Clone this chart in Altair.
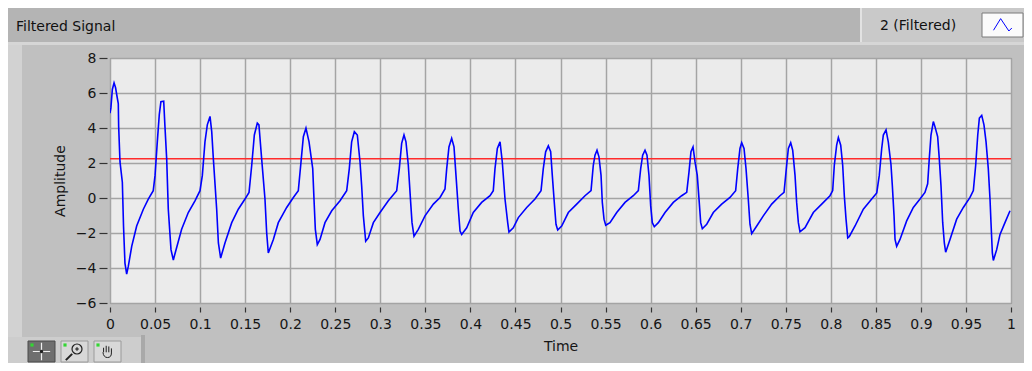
import altair as alt
import pandas as pd

# ---- data ----
time_s = [0.0, 0.001, 0.0026, 0.0045, 0.0062, 0.0078, 0.0092, 0.0096, 0.0111, 0.0137,
          0.0150, 0.0166, 0.0185, 0.0203, 0.0241, 0.0296, 0.037, 0.0425, 0.048, 0.050,
          0.0525, 0.0547, 0.0565, 0.0596, 0.061, 0.0629, 0.0647, 0.0677, 0.0703, 0.0718,
          0.0795, 0.0869, 0.0943, 0.0999, 0.1025, 0.1054, 0.108, 0.111, 0.1129, 0.1147,
          0.1184, 0.1203, 0.1228, 0.1276, 0.1351, 0.1424, 0.1498, 0.1543, 0.1573, 0.1602,
          0.1635, 0.1653, 0.1683, 0.172, 0.1739, 0.1757, 0.1813, 0.1868, 0.1961, 0.2035,
          0.209, 0.212, 0.2146, 0.2175, 0.2209, 0.225, 0.2264, 0.2279, 0.2301, 0.2331,
          0.2386, 0.2461, 0.2553, 0.2627, 0.2656, 0.2682, 0.2712, 0.2745, 0.2775, 0.2793,
          0.2812, 0.2838, 0.2867, 0.2923, 0.2997, 0.3089, 0.3182, 0.3211, 0.3237, 0.3263,
          0.3285, 0.3311, 0.3337, 0.3352, 0.3374, 0.3422, 0.3496, 0.3589, 0.3663, 0.3718,
          0.3737, 0.3762, 0.3792, 0.3818, 0.384, 0.3866, 0.3885, 0.3903, 0.3959, 0.4032,
          0.4125, 0.4218, 0.4254, 0.4273, 0.4299, 0.4329, 0.4354, 0.4384, 0.4414, 0.4428,
          0.4476, 0.4532, 0.4625, 0.4717, 0.4784, 0.4809, 0.4835, 0.4865, 0.4891, 0.4909,
          0.4931, 0.495, 0.4969, 0.5013, 0.5087, 0.518, 0.5272, 0.5339, 0.5364, 0.5383,
          0.5405, 0.5427, 0.545, 0.5464, 0.5483, 0.5502, 0.5549, 0.5624, 0.5716, 0.5808,
          0.5864, 0.589, 0.5912, 0.5938, 0.596, 0.5982, 0.6001, 0.6019, 0.6041, 0.6086,
          0.616, 0.6252, 0.6345, 0.6401, 0.6426, 0.6448, 0.6471, 0.6493, 0.6518, 0.654,
          0.6556, 0.6574, 0.6623, 0.6696, 0.6789, 0.6881, 0.6944, 0.6967, 0.6992, 0.7011,
          0.7037, 0.7059, 0.7084, 0.7103, 0.7122, 0.7178, 0.7251, 0.7344, 0.7436, 0.7481,
          0.751, 0.7529, 0.7555, 0.7577, 0.7603, 0.7621, 0.764, 0.7658, 0.7714, 0.7806,
          0.7899, 0.7991, 0.8021, 0.8039, 0.8065, 0.8084, 0.811, 0.8132, 0.815, 0.8169,
          0.8188, 0.8206, 0.8269, 0.8361, 0.8454, 0.851, 0.8538, 0.8565, 0.8583, 0.8613,
          0.8638, 0.8668, 0.8683, 0.8702, 0.8713, 0.8731, 0.8768, 0.8842, 0.8916, 0.899,
          0.9045, 0.9075, 0.9093, 0.9112, 0.9138, 0.9156, 0.9186, 0.9204, 0.9223, 0.9242,
          0.926, 0.9275, 0.9323, 0.9397, 0.9471, 0.9545, 0.9582, 0.9608, 0.9631, 0.9649,
          0.9675, 0.97, 0.9723, 0.9748, 0.9767, 0.9778, 0.9793, 0.9804, 0.9841, 0.9878,
          0.9933, 0.9989]
amplitude = [4.85, 5.15, 6.2, 6.58, 6.3, 5.8, 5.4, 4.1, 2.06, 0.9,
             -1.6, -3.72, -4.35, -3.91, -2.76, -1.6, -0.64, -0.06, 0.42, 1.29,
             3.21, 4.76, 5.5, 5.53, 4.08, 2.25, -0.64, -2.95, -3.55, -3.24,
             -1.79, -0.83, -0.16, 0.42, 1.29, 3.21, 4.18, 4.66, 3.79, 2.25,
             -0.64, -2.57, -3.43, -2.57, -1.41, -0.64, -0.06, 0.32, 1.87, 3.6,
             4.28, 4.18, 2.25, -0.06, -1.99, -3.14, -2.37, -1.41, -0.54, 0.03,
             0.42, 2.06, 3.5, 3.99, 3.21, 1.68, -0.06, -1.79, -2.66, -2.37,
             -1.41, -0.73, -0.16, 0.42, 1.68, 3.21, 3.79, 3.6, 2.06, 0.71,
             -1.02, -2.47, -2.28, -1.41, -0.83, -0.16, 0.42, 1.68, 3.12, 3.6,
             3.21, 1.87, -0.25, -1.41, -2.18, -1.79, -1.02, -0.35, 0.03, 0.52,
             1.68, 2.92, 3.41, 2.92, 1.29, -0.64, -1.89, -2.08, -1.7, -0.83,
             -0.25, 0.13, 0.42, 1.68, 2.83, 3.21, 2.06, -0.06, -1.41, -1.95,
             -1.7, -1.12, -0.54, -0.06, 0.42, 1.68, 2.64, 2.98, 2.64, 1.29,
             -0.25, -1.5, -1.83, -1.6, -0.83, -0.35, 0.13, 0.42, 1.87, 2.45,
             2.73, 2.35, 1.29, -0.25, -1.21, -1.56, -1.41, -0.83, -0.25, 0.13,
             0.42, 1.68, 2.45, 2.73, 2.45, 1.29, -0.45, -1.41, -1.64, -1.41,
             -0.83, -0.25, 0.13, 0.32, 1.48, 2.64, 2.92, 2.06, 1.29, -0.25,
             -1.41, -1.76, -1.5, -0.83, -0.35, 0.03, 0.42, 1.68, 2.83, 3.16,
             2.83, 1.68, -0.06, -1.5, -2.04, -1.6, -1.02, -0.35, 0.13, 0.32,
             1.87, 2.83, 3.16, 2.73, 1.29, -0.25, -1.41, -1.93, -1.7, -0.83,
             -0.35, 0.13, 0.42, 1.87, 3.02, 3.45, 3.02, 1.87, 0.13, -1.21,
             -2.28, -2.2, -1.6, -0.64, -0.06, 0.29, 1.29, 2.83, 3.6, 3.89,
             3.21, 1.9, 0.71, -1.02, -2.37, -2.76, -2.37, -1.31, -0.54, -0.06,
             0.32, 0.81, 2.25, 3.6, 4.37, 4.08, 3.5, 2.25, 0.71, -1.41,
             -2.57, -3.1, -2.37, -1.21, -0.54, 0.03, 0.42, 1.87, 3.6, 4.57,
             4.72, 4.18, 3.21, 1.68, -0.06, -1.41, -3.14, -3.57, -2.95, -2.08,
             -1.41, -0.73]
threshold = [2.25]
x_ticks = [0, 0.05, 0.1, 0.15, 0.2, 0.25, 0.3, 0.35, 0.4, 0.45, 0.5,
           0.55, 0.6, 0.65, 0.7, 0.75, 0.8, 0.85, 0.9, 0.95, 1]
y_ticks = [-6, -4, -2, 0, 2, 4, 6, 8]
graph_title = ["Filtered Signal"]
series_names = ["2 (Filtered)"]

FONT = "DejaVu Sans"

line_df = pd.DataFrame({"Time": time_s, "Amplitude": amplitude})
rule_df = pd.DataFrame({"level": threshold})
one = alt.Data(values=[{}])

x_scale = alt.Scale(domain=[0, 1], nice=False, zero=False)
y_scale = alt.Scale(domain=[-6, 8], nice=False, zero=False)

x_axis = alt.Axis(title="Time", values=x_ticks, format="~g", grid=True,
                  gridColor="#a4a4a4", gridWidth=1.5, domain=False,
                  tickColor="#333333", tickSize=5, tickWidth=1.2, offset=4,
                  labelPadding=5, labelFlush=False, labelOverlap=False,
                  titlePadding=8)
y_axis = alt.Axis(title="Amplitude", values=y_ticks, grid=True,
                  gridColor="#a4a4a4", gridWidth=1.5, domain=False,
                  tickColor="#333333", tickSize=8, tickWidth=1.2, offset=3,
                  labelPadding=3, labelOverlap=False, titlePadding=8)


def rect(x1, x2, y1, y2, fill, stroke=None):
    kw = dict(color=fill)
    if stroke:
        kw.update(stroke=stroke, strokeWidth=1)
    return alt.Chart(one).mark_rect(**kw).encode(
        x=alt.value(x1), x2=alt.value(x2), y=alt.value(y1), y2=alt.value(y2))


def icon(shape, x, y, size, color, width=1.2, filled=False):
    return alt.Chart(one).mark_point(
        shape=shape, filled=filled, color=color, strokeWidth=width, size=size,
        opacity=1
    ).encode(x=alt.value(x), y=alt.value(y))


# decorations (panel frame in plot-relative pixels)
title_bar = rect(-102, 914, -50, -16, "#b4b4b4")
title_edge = rect(-102, 914, -16, -13, "#d6d6d6")
legend_bg = rect(750, 914, -50, -16, "#c9c9c9")
legend_edge = rect(750, 752, -50, -16, "#e2e2e2")
sym_box = rect(872, 913, -45, -21, "#fbfbfb", "#7a7a7a")
left_strip = rect(-102, -88, -13, 279, "#d2d2d2")
tool_panel = rect(-102, 33, 279, 305, "#cdcdcd")
tool_edge = rect(31, 35, 277, 305, "#a9a9a9")
btn1 = rect(-82, -55, 283, 304, "#6f6f6f", "#4a4a4a")
btn2 = rect(-49, -22, 283, 304, "#d8d8d8", "#9a9a9a")
btn3 = rect(-16, 11, 283, 304, "#d8d8d8", "#9a9a9a")

title_text = alt.Chart(pd.DataFrame({"t": graph_title})).mark_text(
    align="left", baseline="middle", font=FONT, fontSize=14, color="#111111"
).encode(x=alt.value(-94), y=alt.value(-31), text="t:N")

legend_text = alt.Chart(pd.DataFrame({"s": series_names})).mark_text(
    align="left", baseline="middle", font=FONT, fontSize=14, color="#111111"
).encode(x=alt.value(770), y=alt.value(-32), text="s:N")

legend_symbol = icon("M-0.48,0.28L-0.1,-0.34L0.34,0.32L0.5,0.16",
                     892.5, -33, 1400, "#0000ff", 1)

cross_icon = icon("M-1,0L1,0M0,-1L0,1", -68.5, 293.5, 300, "#f0f0f0", 1.2)
cross_dot = icon("circle", -68.5, 293.5, 12, "#202020", 1, True)
zoom_icon = icon("circle", -33, 291, 100, "#202020", 1.2)
zoom_plus = icon("M-1,0L1,0M0,-1L0,1", -33, 291, 14, "#202020", 1.2)
zoom_handle = icon("M-1,1L1,-1", -41, 299, 40, "#202020", 2)
hand_icon = icon(
    "M-0.6,0.2L-0.6,-0.5M-0.2,0.2L-0.2,-0.8M0.2,0.2L0.2,-0.7M0.6,0.3L0.6,-0.4M-0.7,0.2Q-0.6,1,0,1Q0.6,1,0.6,0.3",
    -2.5, 293, 170, "#202020", 1)
led1 = icon("square", -78, 287, 10, "#33d633", 1, True)
led2 = icon("square", -45, 287, 10, "#33d633", 1, True)
led3 = icon("square", -12, 287, 10, "#33d633", 1, True)

rule = alt.Chart(rule_df).mark_rule(color="#ff2b2b", strokeWidth=1.5).encode(
    y=alt.Y("level:Q", scale=y_scale, axis=y_axis))

line = alt.Chart(line_df).mark_line(color="#0000ff", strokeWidth=1.6, clip=True).encode(
    x=alt.X("Time:Q", scale=x_scale, axis=x_axis),
    y=alt.Y("Amplitude:Q", scale=y_scale, axis=y_axis))

chart = alt.layer(
    title_bar, title_edge, legend_bg, legend_edge, sym_box, left_strip,
    tool_panel, tool_edge, btn1, btn2, btn3,
    title_text, legend_text, legend_symbol, cross_icon, cross_dot,
    zoom_icon, zoom_plus, zoom_handle, hand_icon, led1, led2, led3,
    rule, line
).properties(
    width=901, height=245,
    autosize=alt.AutoSizeParams(type="none"),
    padding={"left": 102, "top": 50, "right": 13, "bottom": 60},
    background="#c0c0c0",
).configure_view(
    stroke="#7c7c7c", strokeWidth=1, fill="#ebebeb"
).configure_axis(
    labelFont=FONT, titleFont=FONT, labelFontSize=14, titleFontSize=14,
    titleFontWeight="normal", labelColor="#151515", titleColor="#151515"
)

chart.save("out.html", embed_options={"renderer": "svg", "actions": False})
